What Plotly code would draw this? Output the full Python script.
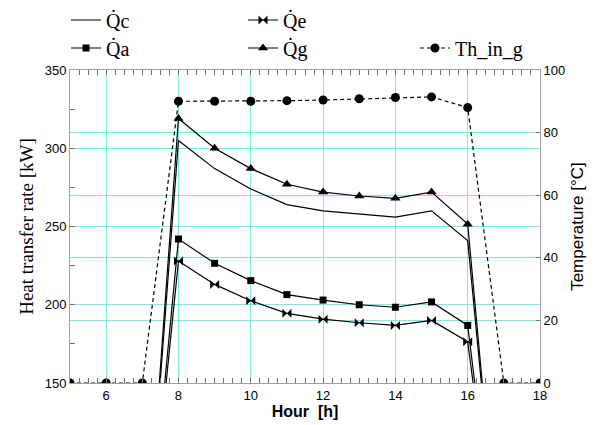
import plotly.graph_objects as go

hours = [5, 6, 7, 8, 9, 10, 11, 12, 13, 14, 15, 16, 17, 18]
Qc = [0, 0, 0, 305, 287, 274, 264, 260, 258, 256, 260, 241, 0, 0]
Qe = [0, 0, 0, 228, 213, 202.6, 194.5, 190.8, 188.5, 186.8, 190, 176.4, 0, 0]
Qa = [0, 0, 0, 242, 226.5, 215.4, 206.5, 203, 200, 198.4, 201.8, 186.8, 0, 0]
Qg = [0, 0, 0, 319, 300, 287, 277, 272, 269.5, 268, 272, 251.5, 0, 0]
Th_in_g = [0, 0, 0, 90, 90, 90, 90.2, 90.4, 90.8, 91.2, 91.4, 88, 0, 0]

x_minor = [5 + 0.25 * i for i in range(53)]

serif = "Liberation Serif"
sans = "Liberation Sans"

fig = go.Figure()
line = dict(color="black", width=1.2)
fig.add_trace(go.Scatter(x=hours, y=Qc, mode="lines", name="Q̇c", line=line, legend="legend"))
fig.add_trace(go.Scatter(x=hours, y=Qe, mode="lines+markers", name="Q̇e", line=line,
                         marker=dict(symbol="bowtie", size=9, color="black"), legend="legend2"))
fig.add_trace(go.Scatter(x=hours, y=Qa, mode="lines+markers", name="Q̇a", line=line,
                         marker=dict(symbol="square", size=7, color="black"), legend="legend3"))
fig.add_trace(go.Scatter(x=hours, y=Qg, mode="lines+markers", name="Q̇g", line=line,
                         marker=dict(symbol="triangle-up", size=9, color="black"), legend="legend4"))
fig.add_trace(go.Scatter(x=hours, y=Th_in_g, mode="lines+markers", name="Th_in_g", yaxis="y2",
                         line=dict(color="black", width=1.2, dash="4px,3px"),
                         marker=dict(symbol="circle", size=9, color="black"), legend="legend5"))

W, H = 597, 425
L, R, T, B = 70, 57, 70, 42
pw, ph = W - L - R, H - T - B

def lx(px):
    return (px - L) / pw

def ly(py):
    return (H - B - py) / ph

legfont = dict(family=serif, size=20, color="black")
def leg(px, py):
    return dict(x=lx(px), y=ly(py), xanchor="left", yanchor="middle", font=legfont,
                bgcolor="rgba(0,0,0,0)", itemwidth=30, tracegroupgap=0, visible=True)

grid = "#80e6e6"
tc = "#707070"
fig.update_layout(
    width=W, height=H,
    showlegend=True,
    margin=dict(l=L, r=R, t=T, b=B, autoexpand=False),
    paper_bgcolor="white", plot_bgcolor="white",
    legend=leg(66, 20), legend2=leg(243, 20), legend3=leg(66, 48),
    legend4=leg(243, 48), legend5=leg(415, 48),
    xaxis=dict(range=[5, 18], tickmode="linear", tick0=6, dtick=2, showgrid=True, gridcolor=grid, gridwidth=1.2,
               showline=True, linecolor="#a0a0a0", linewidth=1, mirror="allticks",
               ticks="inside", ticklen=5, tickcolor=tc,
               minor=dict(tickmode="array", tickvals=x_minor, ticks="inside", ticklen=4, tickcolor=tc,
                          tickwidth=1, showgrid=False),
               tickfont=dict(family=sans, size=13, color="black"),
               title=dict(text="<b>Hour  [h]</b>", font=dict(family=sans, size=16, color="black"), standoff=2),
               zeroline=False),
    yaxis=dict(range=[150, 350], tickmode="linear", tick0=150, dtick=50, showgrid=True, gridcolor=grid, gridwidth=1.2,
               showline=True, linecolor="#a0a0a0", linewidth=1,
               ticks="inside", ticklen=5, tickcolor=tc,
               minor=dict(dtick=25, tick0=150, ticks="inside", ticklen=5, tickcolor=tc, showgrid=False),
               tickfont=dict(family=sans, size=13, color="black"),
               title=dict(text="Heat transfer rate [kW]", font=dict(family=serif, size=19, color="black"), standoff=6),
               zeroline=False),
    yaxis2=dict(range=[0, 100], tickmode="linear", tick0=0, dtick=20, overlaying="y", side="right",
                showgrid=True, gridcolor=grid, gridwidth=1.2,
                showline=True, linecolor="#a0a0a0", linewidth=1,
                ticks="inside", ticklen=4, tickcolor=tc,
                tickfont=dict(family=sans, size=13, color="black"),
                title=dict(text="Temperature [°C]", font=dict(family=sans, size=17, color="black"), standoff=6),
                zeroline=False),
)

fig.write_html("out.html")
